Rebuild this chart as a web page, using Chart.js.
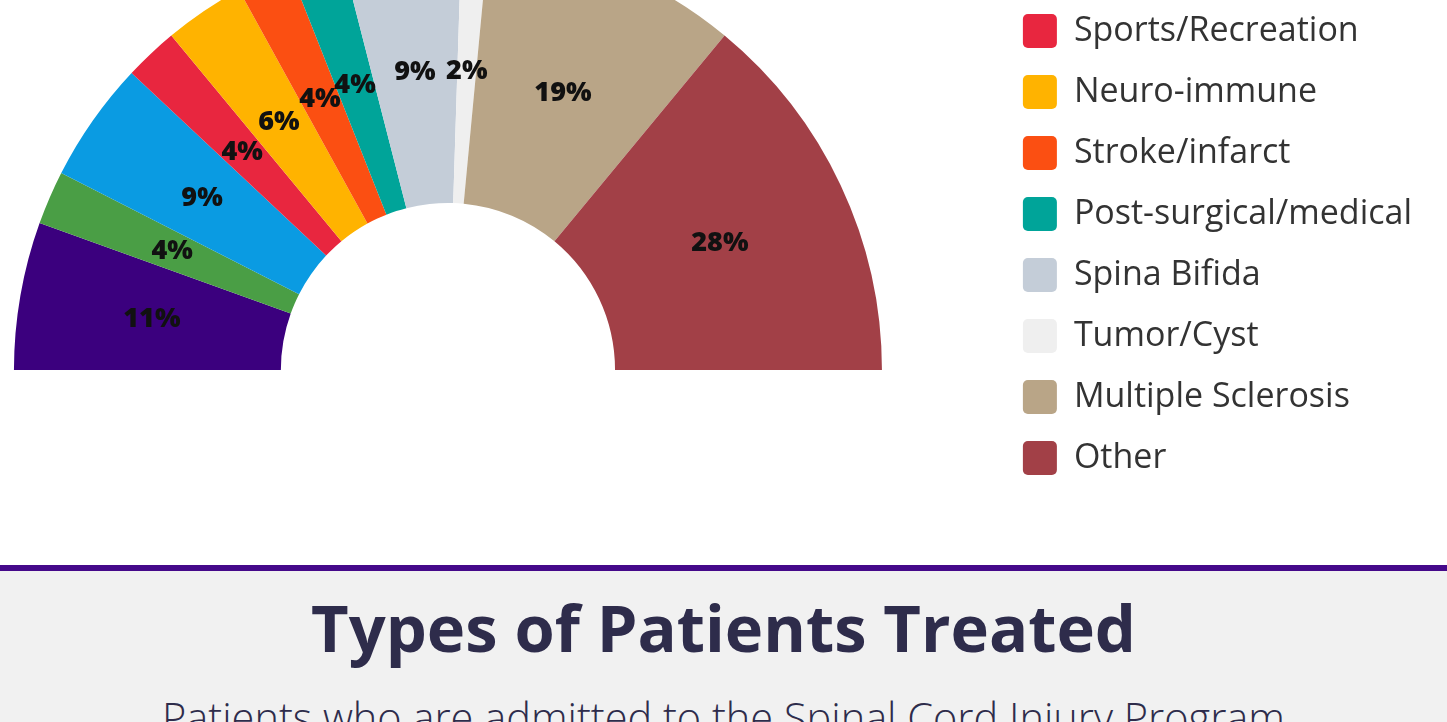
<!DOCTYPE html>
<html>
<head>
<meta charset="utf-8">
<title>Types of Patients Treated</title>
<script src="https://cdn.jsdelivr.net/npm/chart.js@4/dist/chart.umd.min.js"></script>
<style>
  html, body { margin: 0; padding: 0; background: #fff; overflow: hidden; }
  body { width: 1447px; height: 722px; font-family: "Open Sans", sans-serif; }
  #chartBox { position: relative; height: 565px; overflow: hidden; }
  #chart { position: absolute; left: 0; top: 0; }
  .rule { height: 6px; background: #45098a; }
  .caption { position: relative; height: 151px; background: #f1f1f1; overflow: hidden; color: #2e2c4b; }
  .caption h1 { position: absolute; left: 0; right: 0; top: 24px; margin: 0; text-align: center; font-size: 65px; line-height: 1; font-weight: 700; }
  .caption p { position: absolute; left: 0; right: 0; top: 126px; margin: 0; text-align: center; font-size: 41.5px; line-height: 1; font-weight: 300; }
</style>
</head>
<body>
<div id="chartBox"><canvas id="chart" width="1700" height="900"></canvas></div>
<div class="rule"></div>
<div class="caption">
  <h1>Types of Patients Treated</h1>
  <p>Patients who are admitted to the Spinal Cord Injury Program</p>
</div>

<script>
// data
let categories = [
  "Motor Vehicle",
  "Violence",
  "Falls",
  "Sports/Recreation",
  "Neuro-immune",
  "Stroke/infarct",
  "Post-surgical/medical",
  "Spina Bifida",
  "Tumor/Cyst",
  "Multiple Sclerosis",
  "Other",
];
let percents = [11, 4, 9, 4, 6, 4, 4, 9, 2, 19, 28];
let sliceColors = [
  "#3b007e",
  "#4a9e45",
  "#0a9be2",
  "#e8263f",
  "#ffb300",
  "#fb4f12",
  "#00a499",
  "#c4cdd8",
  "#efefef",
  "#b9a587",
  "#a24047",
];

// percent text in the middle of every slice
const sliceLabels = {
  id: "sliceLabels",
  afterDatasetsDraw(chart) {
    let ctx = chart.ctx;
    let meta = chart.getDatasetMeta(0);
    ctx.save();
    ctx.font = "800 27px 'Open Sans'";
    ctx.fillStyle = "#111";
    ctx.textAlign = "center";
    ctx.textBaseline = "middle";
    meta.data.forEach((arc, i) => {
      let pos = arc.getCenterPoint();
      ctx.fillText(percents[i] + "%", pos.x, pos.y + 1);
    });
    ctx.restore();
  },
};

const canvas = document.getElementById("chart");

const config = {
  type: "doughnut",
  data: {
    labels: categories,
    datasets: [
      {
        data: percents,
        backgroundColor: sliceColors,
        borderWidth: 0,
      },
    ],
  },
  options: {
    responsive: false,
    animation: false,
    rotation: -90,
    circumference: 180,
    radius: 434,
    cutout: "38.5%",
    layout: {
      padding: { left: 0, right: 0, top: 0, bottom: 200 },
    },
    plugins: {
      tooltip: { enabled: false },
      legend: {
        position: "right",
        align: "start",
        labels: {
          boxWidth: 34,
          boxHeight: 34,
          padding: 27,
          useBorderRadius: true,
          borderRadius: 5,
          color: "#333",
          font: { family: "'Open Sans'", size: 34, weight: "400" },
        },
      },
    },
  },
  plugins: [sliceLabels],
};

let chart = new Chart(canvas, config);

// pin things to the page grid: legend boxes at x=1023 (first row at y=-169),
// arc centre at (448, 370); the top of the chart runs off the page
let hit = chart.legend.legendHitBoxes[0];
let shiftX = 1023 - hit.left;
let shiftY = -169 - hit.top;
let arc = chart.getDatasetMeta(0).data[0];
config.options.layout.padding.left = Math.max(0, Math.round(2 * (448 - shiftX - arc.x)));
config.options.layout.padding.bottom = Math.floor(200 + 2 * (arc.y - (370 - shiftY)));
chart.update("none");
canvas.style.left = shiftX + "px";
canvas.style.top = shiftY + "px";
</script>
</body>
</html>
